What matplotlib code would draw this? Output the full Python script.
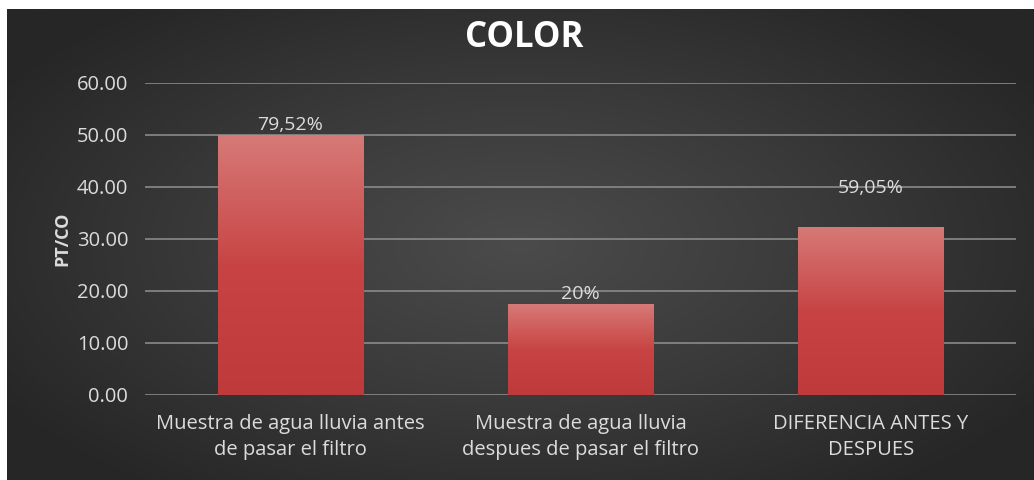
import numpy as np
import matplotlib
matplotlib.use('Agg')
from matplotlib import pyplot as plt
from matplotlib.colors import LinearSegmentedColormap

### DATA
categories = [
    'Muestra de agua lluvia antes\nde pasar el filtro',
    'Muestra de agua lluvia\ndespues de pasar el filtro',
    'DIFERENCIA ANTES Y\nDESPUES',
]
values = [50.0, 17.5, 32.4]
labels = ['79,52%', '20%', '59,05%']
yticks = [0, 10, 20, 30, 40, 50, 60]

### STYLE
label_offsets = [1, 1, 21]  # points above bar top
text_col = '#dcdcdc'
grid_col = '#8a8a8a'
bar_cmap = LinearSegmentedColormap.from_list('bar', ['#d67a77', '#c84444', '#bf3a3a'])
bg_cmap = LinearSegmentedColormap.from_list('bg', ['#4b4b4b', '#3a3a3a', '#262626'])

plt.rcParams['font.family'] = ['Open Sans', 'DejaVu Sans']

fig = plt.figure(figsize=(10.34, 4.8), dpi=100, facecolor='white')

# radial background behind the chart
bg = fig.add_axes([7 / 1034, 0, 1 - 7 / 1034, 1 - 9 / 480])
yy, xx = np.mgrid[-1:1:300j, -1:1:600j]
r = np.sqrt((xx / 1.0) ** 2 + (yy / 1.1) ** 2)
bg.imshow(r, cmap=bg_cmap, aspect='auto', extent=[0, 1, 0, 1], vmin=0, vmax=1.2)
bg.set_axis_off()

ax = fig.add_axes([145 / 1034, 1 - 395 / 480, (1016 - 145) / 1034, (395 - 83) / 480])
ax.set_facecolor('none')
x = np.arange(len(categories))
bars = ax.bar(x, values, width=0.5, color='none', zorder=2)

# vertical gradient inside each bar
grad = np.linspace(0, 1, 256).reshape(-1, 1)
for b in bars:
    x0, y0 = b.get_x(), b.get_y()
    w, h = b.get_width(), b.get_height()
    im = ax.imshow(grad, cmap=bar_cmap, aspect='auto', extent=[x0, x0 + w, y0, y0 + h],
                   origin='upper', zorder=2)
    im.set_clip_path(b)

for xi, v, lab, off in zip(x, values, labels, label_offsets):
    ax.annotate(lab, (xi, v), xytext=(0, off), textcoords='offset points',
                ha='center', va='bottom', color=text_col, fontsize=14, zorder=3)

ax.set_xlim(-0.5, len(categories) - 0.5)
ax.set_ylim(0, 60)
ax.set_yticks(yticks)
ax.set_yticklabels([f'{t:.2f}' for t in yticks])
ax.yaxis.grid(True, color=grid_col, linewidth=1.2, zorder=1)
ax.set_axisbelow(True)
ax.set_xticks(x)
ax.set_xticklabels(categories, linespacing=1.4)
ax.tick_params(axis='both', length=0, colors=text_col, labelsize=14.5)
ax.tick_params(axis='x', pad=14)
ax.tick_params(axis='y', pad=12)
for s in ax.spines.values():
    s.set_visible(False)

ax.set_ylabel('PT/CO', color=text_col, fontsize=13, fontweight='bold', labelpad=4)
fig.text(0.507, 1 - 38 / 480, 'COLOR', ha='center', va='center', color='white',
         fontsize=25, fontweight='bold')

plt.savefig('out.png', dpi=100, facecolor='white')
